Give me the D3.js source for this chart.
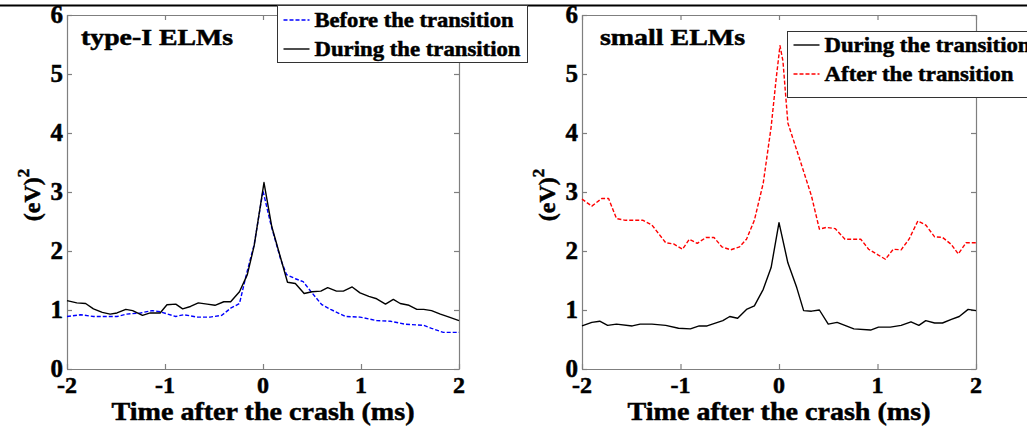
<!DOCTYPE html>
<html>
<head>
<meta charset="utf-8">
<script src="https://cdn.jsdelivr.net/npm/d3@7"></script>
<style>
  body { margin: 0; background: #fff; }
  svg { display: block; }
  text { font-family: "Liberation Serif", "Times New Roman", serif; font-weight: bold; }
</style>
</head>
<body>
<svg id="fig" width="1027" height="432"></svg>
<script>
// tick values shared by both panels
var xTicks = [-2, -1, 0, 1, 2];
var yTicks = [0, 1, 2, 3, 4, 5, 6];

// type-I ELMs, before the transition (blue dashed)
var typeIBeforeT = [-2, -1.86, -1.73, -1.49, -1.39, -1.25, -1.13, -1.05, -0.89, -0.81, -0.67, -0.54, -0.42, -0.33, -0.24, -0.17, -0.09, 0.0, 0.08, 0.18, 0.24, 0.33, 0.41, 0.50, 0.60, 0.69, 0.84, 0.99, 1.16, 1.30, 1.45, 1.64, 1.72, 1.84, 2.0];
var typeIBeforeV = [0.89, 0.92, 0.89, 0.89, 0.93, 0.95, 0.99, 0.97, 0.89, 0.92, 0.88, 0.88, 0.91, 1.03, 1.11, 1.60, 2.11, 3.02, 2.45, 1.86, 1.60, 1.53, 1.48, 1.29, 1.09, 1.01, 0.89, 0.88, 0.82, 0.81, 0.76, 0.74, 0.69, 0.62, 0.62];

// type-I ELMs, during the transition (black)
var typeIDuringT = [-2, -1.90, -1.81, -1.73, -1.64, -1.56, -1.49, -1.40, -1.33, -1.23, -1.15, -1.05, -0.98, -0.89, -0.82, -0.74, -0.66, -0.57, -0.49, -0.40, -0.33, -0.24, -0.16, -0.09, 0.01, 0.09, 0.17, 0.25, 0.33, 0.42, 0.50, 0.59, 0.66, 0.75, 0.82, 0.91, 0.99, 1.08, 1.16, 1.25, 1.33, 1.40, 1.49, 1.57, 1.64, 1.72, 1.81, 1.90, 2.0];
var typeIDuringV = [1.16, 1.12, 1.11, 1.02, 0.96, 0.93, 0.95, 1.01, 0.99, 0.91, 0.95, 0.95, 1.09, 1.10, 1.02, 1.06, 1.12, 1.10, 1.08, 1.14, 1.14, 1.31, 1.60, 2.09, 3.16, 2.41, 1.94, 1.47, 1.45, 1.28, 1.31, 1.32, 1.38, 1.32, 1.32, 1.39, 1.29, 1.23, 1.19, 1.10, 1.18, 1.11, 1.08, 1.01, 1.01, 0.99, 0.93, 0.88, 0.82];

// small ELMs, during the transition (black)
var smallDuringT = [-2, -1.90, -1.82, -1.74, -1.65, -1.49, -1.41, -1.29, -1.15, -1.02, -0.90, -0.81, -0.73, -0.57, -0.50, -0.42, -0.33, -0.25, -0.16, -0.08, 0.0, 0.09, 0.18, 0.25, 0.33, 0.41, 0.50, 0.59, 0.76, 0.93, 1.01, 1.13, 1.24, 1.34, 1.42, 1.49, 1.58, 1.66, 1.75, 1.83, 1.92, 2.0];
var smallDuringV = [0.73, 0.79, 0.81, 0.74, 0.76, 0.73, 0.76, 0.76, 0.74, 0.69, 0.68, 0.73, 0.73, 0.82, 0.89, 0.86, 1.01, 1.07, 1.35, 1.72, 2.48, 1.80, 1.38, 0.99, 0.98, 1.00, 0.76, 0.79, 0.68, 0.66, 0.71, 0.71, 0.74, 0.80, 0.74, 0.82, 0.78, 0.78, 0.84, 0.89, 1.01, 0.99];

// small ELMs, after the transition (red dashed)
var smallAfterT = [-2, -1.90, -1.80, -1.73, -1.65, -1.56, -1.38, -1.29, -1.15, -1.07, -0.98, -0.91, -0.83, -0.74, -0.66, -0.58, -0.49, -0.40, -0.33, -0.25, -0.16, -0.08, -0.03, 0.01, 0.04, 0.09, 0.18, 0.25, 0.33, 0.41, 0.48, 0.57, 0.67, 0.83, 0.91, 1.00, 1.08, 1.16, 1.24, 1.32, 1.41, 1.49, 1.58, 1.66, 1.75, 1.82, 1.90, 2.0];
var smallAfterV = [2.88, 2.76, 2.89, 2.89, 2.55, 2.52, 2.52, 2.44, 2.14, 2.12, 2.03, 2.20, 2.13, 2.23, 2.23, 2.07, 2.02, 2.07, 2.20, 2.52, 3.15, 4.10, 4.90, 5.48, 5.22, 4.17, 3.71, 3.35, 2.93, 2.37, 2.40, 2.38, 2.20, 2.20, 2.03, 1.94, 1.86, 2.03, 2.02, 2.20, 2.51, 2.44, 2.24, 2.23, 2.11, 1.95, 2.14, 2.14];

var svg = d3.select("#fig");

// cropped rule at the top of the figure
svg.append("line")
  .attr("x1", 0).attr("x2", 1027)
  .attr("y1", 5.5).attr("y2", 5.5)
  .attr("stroke", "#000")
  .attr("stroke-width", 2);

function zip(t, v) {
  return t.map(function (d, i) { return { t: d, v: v[i] }; });
}

// heavier text, like the reference print
function heavy(sel) {
  return sel.attr("stroke", "#000").attr("stroke-width", 0.5);
}

function drawPanel(p) {
  var x = d3.scaleLinear().domain([-2, 2]).range([p.left, p.right]);
  var y = d3.scaleLinear().domain([0, 6]).range([369, 15]);
  var g = svg.append("g");

  // axes with inward ticks on all four sides
  var axisColor = "#7f7f7f";
  var axB = g.append("g").attr("transform", "translate(0,369)")
    .call(d3.axisBottom(x).tickValues(xTicks).tickSizeInner(-5).tickSizeOuter(0).tickFormat(""));
  var axT = g.append("g").attr("transform", "translate(0,15)")
    .call(d3.axisTop(x).tickValues(xTicks).tickSizeInner(-5).tickSizeOuter(0).tickFormat(""));
  var axL = g.append("g").attr("transform", "translate(" + p.left + ",0)")
    .call(d3.axisLeft(y).tickValues(yTicks).tickSizeInner(-5).tickSizeOuter(0).tickFormat(""));
  var axR = g.append("g").attr("transform", "translate(" + p.right + ",0)")
    .call(d3.axisRight(y).tickValues(yTicks).tickSizeInner(-5).tickSizeOuter(0).tickFormat(""));
  [axB, axT, axL, axR].forEach(function (a) {
    a.selectAll("path, line").attr("stroke", axisColor).attr("stroke-width", 1.2);
  });

  // tick labels
  heavy(g.selectAll(".xl").data(xTicks).enter().append("text")
    .attr("x", d => x(d))
    .attr("y", 393)
    .attr("text-anchor", "middle")
    .attr("font-size", "24px")
    .text(d => d));
  heavy(g.selectAll(".yl").data(yTicks).enter().append("text")
    .attr("x", p.left - 4)
    .attr("y", d => y(d) + 8)
    .attr("text-anchor", "end")
    .attr("font-size", "25px")
    .text(d => d));

  // axis titles
  heavy(g.append("text")
    .attr("x", (p.left + p.right) / 2)
    .attr("y", 420)
    .attr("text-anchor", "middle")
    .attr("font-size", "26px")
    .attr("textLength", 303)
    .attr("lengthAdjust", "spacingAndGlyphs")
    .text("Time after the crash (ms)"));

  var yl = heavy(g.append("text")
    .attr("transform", "translate(" + (p.left - 27) + ",195) rotate(-90)")
    .attr("text-anchor", "middle")
    .attr("font-size", "24px"));
  yl.append("tspan").text("(eV)");
  yl.append("tspan").attr("dy", -11).attr("font-size", "17px").text("2");

  // panel title
  heavy(g.append("text")
    .attr("x", p.left + p.titleDx)
    .attr("y", 45)
    .attr("font-size", "24px")
    .attr("textLength", p.titleLen)
    .attr("lengthAdjust", "spacingAndGlyphs")
    .text(p.title));

  // data lines
  var line = d3.line().x(d => x(d.t)).y(d => y(d.v));
  p.series.forEach(function (s) {
    g.append("path")
      .datum(zip(s.t, s.v))
      .attr("fill", "none")
      .attr("stroke", s.color)
      .attr("stroke-width", 1.4)
      .attr("stroke-dasharray", s.dash || null)
      .attr("stroke-linejoin", "round")
      .attr("d", line);
  });

  // legend
  var lg = svg.append("g");
  lg.append("rect")
    .attr("x", p.legend.x).attr("y", p.legend.y)
    .attr("width", p.legend.w).attr("height", p.legend.h)
    .attr("fill", "#fff")
    .attr("stroke", "#333")
    .attr("stroke-width", 1);
  p.series.forEach(function (s, i) {
    var ly = p.legend.rows[i];
    lg.append("line")
      .attr("x1", p.legend.x + 6).attr("x2", p.legend.x + 32)
      .attr("y1", ly - 7).attr("y2", ly - 7)
      .attr("stroke", s.color)
      .attr("stroke-width", 1.4)
      .attr("stroke-dasharray", s.dash || null);
    heavy(lg.append("text")
      .attr("x", p.legend.x + 37)
      .attr("y", ly)
      .attr("font-size", "21px")
      .attr("textLength", s.labelLen)
      .attr("lengthAdjust", "spacingAndGlyphs")
      .text(s.label));
  });
}

drawPanel({
  left: 67, right: 459,
  title: "type-I ELMs", titleDx: 14, titleLen: 152,
  legend: { x: 277.5, y: 5.5, w: 250, h: 57, rows: [27, 56] },
  series: [
    { t: typeIBeforeT, v: typeIBeforeV, color: "#0000ff", dash: "4,2", label: "Before the transition", labelLen: 199 },
    { t: typeIDuringT, v: typeIDuringV, color: "#000", label: "During the transition", labelLen: 206 }
  ]
});

drawPanel({
  left: 582, right: 976,
  title: "small ELMs", titleDx: 18, titleLen: 145,
  legend: { x: 787.5, y: 31.5, w: 260, h: 66, rows: [52, 81] },
  series: [
    { t: smallDuringT, v: smallDuringV, color: "#000", label: "During the transition", labelLen: 206 },
    { t: smallAfterT, v: smallAfterV, color: "#ff0000", dash: "4,2", label: "After the transition", labelLen: 189 }
  ]
});
</script>
</body>
</html>
